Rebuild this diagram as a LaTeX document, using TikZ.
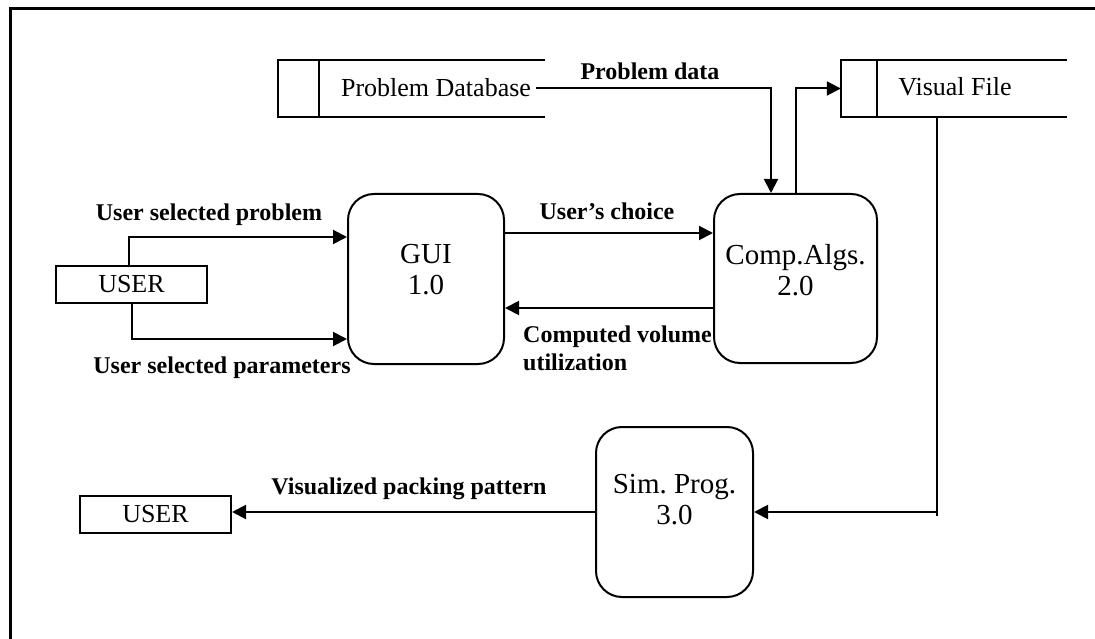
\documentclass[tikz,border=0pt]{standalone}
\usepackage{fontspec}
\setmainfont{Liberation Serif}
\usetikzlibrary{arrows.meta}
\frenchspacing
\begin{document}
\begin{tikzpicture}[x=1pt,y=-1pt,
  line/.style={line width=2pt},
  flow/.style={line width=2pt,-{Triangle[length=14pt,width=14pt]}},
  proc/.style={draw,line width=2pt,rounded corners=26pt,inner sep=0pt},
  ent/.style={draw,line width=2pt,inner sep=0pt,minimum width=151pt,minimum height=37pt,font=\fontsize{26}{30}\selectfont},
  store/.style={inner sep=0pt,minimum height=57pt},
  lbl/.style={font=\fontsize{24}{28}\selectfont\bfseries,inner sep=0pt},
  ptext/.style={font=\fontsize{29}{31}\selectfont,align=center,inner sep=0pt},
  stext/.style={font=\fontsize{26}{30}\selectfont,inner sep=0pt}]
\useasboundingbox (0,0) rectangle (1095,639);
\draw[line width=3pt] (10,639) -- (10,9) -- (1095,9);

% processes
\node[proc,minimum width=156pt,minimum height=170pt] (gui) at (426,279) {};
\node[ptext] (guit) at (426,270) {GUI\\1.0};
\node[proc,minimum width=163pt,minimum height=169pt] (comp) at (795.5,278.5) {};
\node[ptext] (compt) at (795.5,270) {Comp.Algs.\\2.0};
\node[proc,minimum width=157pt,minimum height=170pt] (sim) at (674.5,512) {};
\node[ptext] (simt) at (674.5,500) {Sim. Prog.\\3.0};

% entities
\node[ent] (user1) at (131.5,284.5) {USER};
\node[ent] (user2) at (155.5,514.5) {USER};

% stores
\node[store,minimum width=267pt] (pd) at (411.5,88.5) {};
\draw[line] (pd.north east) -- (pd.north west) -- (pd.south west) -- (pd.south east);
\draw[line] ([xshift=41pt]pd.north west) -- ([xshift=41pt]pd.south west);
\node[stext] (pdt) at (436,88) {Problem Database};

\node[store,minimum width=226pt] (vf) at (954,88.5) {};
\draw[line] (vf.north east) -- (vf.north west) -- (vf.south west) -- (vf.south east);
\draw[line] ([xshift=36pt]vf.north west) -- ([xshift=36pt]vf.south west);
\node[stext] (vft) at (955,87) {Visual File};

% connectors
\draw[flow] ([xshift=5pt]pdt.east) -| ([xshift=-24.5pt]comp.north);
\draw[flow] ([xshift=0.5pt]comp.north) |- (vf.west);
\coordinate (vfdrop) at (937,512);
\draw[line] ([xshift=-17pt]vf.south) -- ([yshift=-4pt]vfdrop);
\draw[flow] (vfdrop) -- (sim.east);
\draw[flow] ([xshift=-2.5pt]user1.north) |- ([yshift=42pt]gui.west);
\draw[flow] ([xshift=0.5pt]user1.south) |- ([yshift=-60pt]gui.west);
\draw[flow] ([yshift=46pt]gui.east) -- ([yshift=46pt]gui.east -| comp.west);
\draw[flow] ([yshift=-29pt]gui.east -| comp.west) -- ([yshift=-29pt]gui.east);
\draw[flow] (sim.west) -- (sim.west -| user2.east);

% labels
\node[lbl] (lpd) at (650,71) {Problem data};
\node[lbl] (lusp) at (209,215) {User selected problem};
\node[lbl] (lusa) at (222,368) {User selected parameters};
\node[lbl] (luc) at (607,211) {User’s choice};
\node[lbl,align=left,anchor=west] (lcv) at (523,348) {Computed volume\\utilization};
\node[lbl] (lvp) at (409,489) {Visualized packing pattern};
\end{tikzpicture}
\end{document}
